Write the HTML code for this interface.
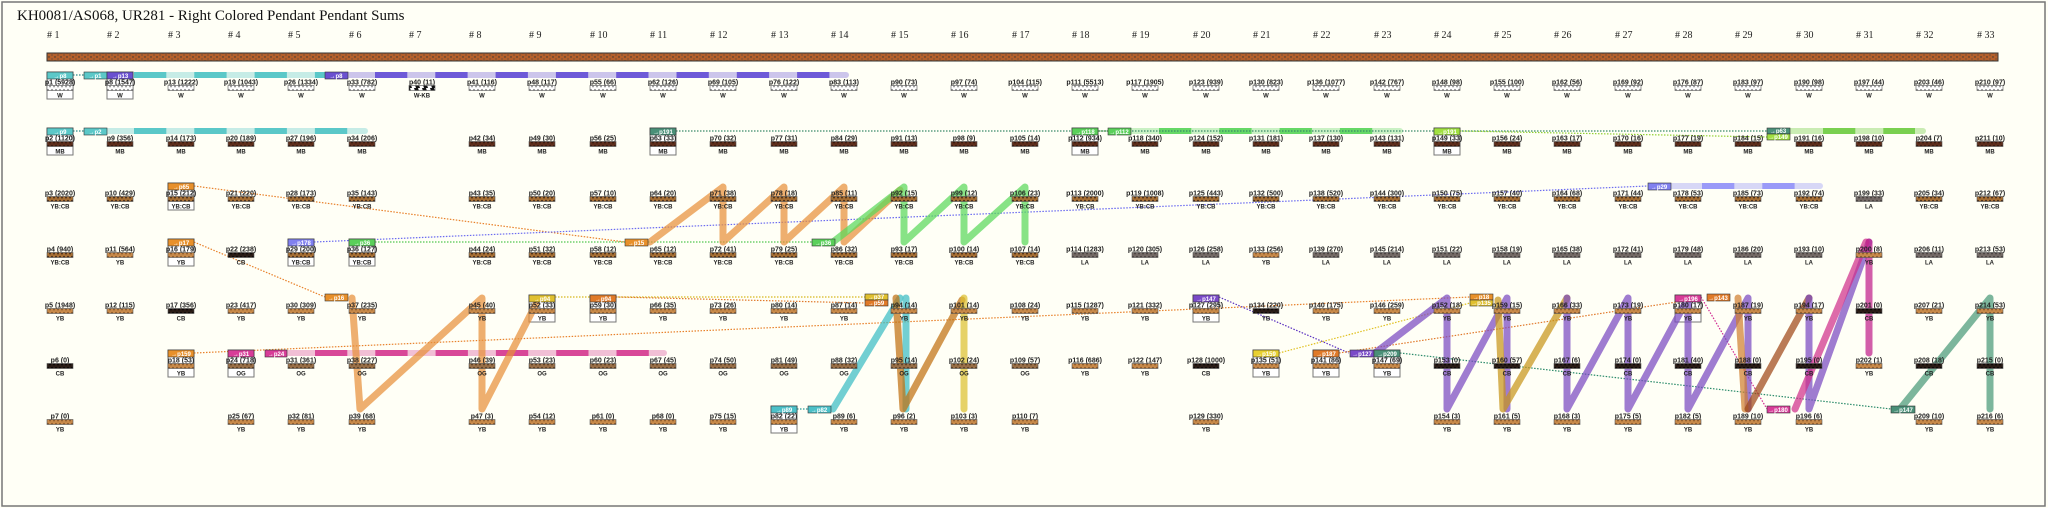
<!DOCTYPE html>
<html><head><meta charset="utf-8"><style>
html,body{margin:0;padding:0;background:#fffff6;}
svg{display:block;}
.l{font:bold 7px "Liberation Sans",sans-serif;text-anchor:middle;fill:#222;}
.t{font:bold 6px "Liberation Sans",sans-serif;text-anchor:middle;fill:#222;}
.h{font:10px "Liberation Serif",serif;fill:#222;}
.tg{font:bold 6px "Liberation Sans",sans-serif;fill:#fff;text-anchor:middle;}
.box{fill:#fff;stroke:#777;stroke-width:1;}
.s{stroke:#555;stroke-width:.6;}
.W{fill:url(#pW)}.MB{fill:url(#pMB)}.YBCB{fill:url(#pYBCB)}.YB{fill:url(#pYB)}.CB{fill:url(#pCB)}.LA{fill:url(#pLA)}.OG{fill:url(#pOG)}.WKB{fill:url(#pWKB)}
.d{fill:none;stroke-width:1.2;stroke-dasharray:1.5 1.5;}
.z{fill:none;stroke-width:7;stroke-linecap:round;stroke-linejoin:round;opacity:.72;}
</style></head><body>
<svg width="2048" height="508" viewBox="0 0 2048 508" xmlns="http://www.w3.org/2000/svg">
<defs>
<pattern id="pW" width="4" height="6" patternUnits="userSpaceOnUse"><rect width="4" height="6" fill="#fff"/><path d="M0,1 L2,5 L4,1" stroke="#777" fill="none" stroke-width=".8"/></pattern>
<pattern id="pMB" width="4" height="6" patternUnits="userSpaceOnUse"><rect width="4" height="6" fill="#5e2e1c"/><path d="M0,1 L2,5 L4,1" stroke="#2a1208" fill="none" stroke-width=".8"/></pattern>
<pattern id="pYBCB" width="4" height="6" patternUnits="userSpaceOnUse"><rect width="4" height="6" fill="#a87034"/><path d="M0,1 L2,5 L4,1" stroke="#3a2010" fill="none" stroke-width=".9"/></pattern>
<pattern id="pYB" width="4" height="6" patternUnits="userSpaceOnUse"><rect width="4" height="6" fill="#c88a4a"/><path d="M0,1 L2,5 L4,1" stroke="#7a4a20" fill="none" stroke-width=".8"/></pattern>
<pattern id="pCB" width="4" height="6" patternUnits="userSpaceOnUse"><rect width="4" height="6" fill="#2a1c16"/><path d="M0,1 L2,5 L4,1" stroke="#000" fill="none" stroke-width=".8"/></pattern>
<pattern id="pLA" width="4" height="6" patternUnits="userSpaceOnUse"><rect width="4" height="6" fill="#746a66"/><path d="M0,1 L2,5 L4,1" stroke="#3a3432" fill="none" stroke-width=".8"/></pattern>
<pattern id="pOG" width="4" height="6" patternUnits="userSpaceOnUse"><rect width="4" height="6" fill="#9a7048"/><path d="M0,1 L2,5 L4,1" stroke="#4a3018" fill="none" stroke-width=".8"/></pattern>
<pattern id="pWKB" width="8" height="6" patternUnits="userSpaceOnUse"><rect width="8" height="6" fill="#fff"/><path d="M0,0 L4,0 L6,6 L2,6Z" fill="#111"/></pattern>
<pattern id="pBar" width="6" height="4" patternUnits="userSpaceOnUse"><rect width="6" height="4" fill="#b4602c"/><circle cx="1" cy="1" r=".7" fill="#333"/><circle cx="4" cy="3" r=".6" fill="#46403c"/></pattern>
</defs>
<rect x="2" y="2" width="2043" height="504" fill="#fffff6" stroke="#777" stroke-width="1.5"/>
<text x="17" y="20" style="font:15px 'Liberation Serif',serif;fill:#111">KH0081/AS068, UR281 - Right Colored Pendant Pendant Sums</text>
<g class="h">
<text x="47" y="38"># 1</text><text x="107" y="38"># 2</text><text x="168" y="38"># 3</text><text x="228" y="38"># 4</text><text x="288" y="38"># 5</text><text x="349" y="38"># 6</text><text x="409" y="38"># 7</text><text x="469" y="38"># 8</text><text x="529" y="38"># 9</text><text x="590" y="38"># 10</text><text x="650" y="38"># 11</text><text x="710" y="38"># 12</text><text x="771" y="38"># 13</text><text x="831" y="38"># 14</text><text x="891" y="38"># 15</text><text x="951" y="38"># 16</text><text x="1012" y="38"># 17</text><text x="1072" y="38"># 18</text><text x="1132" y="38"># 19</text><text x="1193" y="38"># 20</text><text x="1253" y="38"># 21</text><text x="1313" y="38"># 22</text><text x="1374" y="38"># 23</text><text x="1434" y="38"># 24</text><text x="1494" y="38"># 25</text><text x="1554" y="38"># 26</text><text x="1615" y="38"># 27</text><text x="1675" y="38"># 28</text><text x="1735" y="38"># 29</text><text x="1796" y="38"># 30</text><text x="1856" y="38"># 31</text><text x="1916" y="38"># 32</text><text x="1977" y="38"># 33</text>
</g>
<rect x="47" y="53" width="1951" height="8" fill="url(#pBar)" stroke="#333" stroke-width="1"/>

<!-- boxes -->
<g class="box">
<rect x="47" y="72" width="26" height="27"/><rect x="107" y="72" width="26" height="27"/><rect x="47" y="128" width="26" height="27"/>
<rect x="650" y="128" width="26" height="27"/><rect x="1072" y="128" width="26" height="27"/><rect x="1434" y="128" width="26" height="27"/>
<rect x="168" y="183" width="26" height="27"/><rect x="168" y="239" width="26" height="27"/><rect x="288" y="239" width="26" height="27"/><rect x="349" y="239" width="26" height="27"/>
<rect x="529" y="295" width="26" height="27"/><rect x="590" y="295" width="26" height="27"/><rect x="1193" y="295" width="26" height="27"/><rect x="1675" y="295" width="26" height="27"/>
<rect x="168" y="350" width="26" height="27"/><rect x="228" y="350" width="26" height="27"/><rect x="1253" y="350" width="26" height="27"/><rect x="1313" y="350" width="26" height="27"/><rect x="1374" y="350" width="26" height="27"/>
<rect x="771" y="406" width="26" height="27"/>
</g>

<!-- bars -->
<g stroke-linecap="round" fill="none" stroke-width="6">
<line x1="135" y1="75" x2="325" y2="75" stroke="#5bc8c8" opacity=".35"/><line x1="134" y1="75" x2="325" y2="75" stroke="#5bc8c8" stroke-dasharray="32.3 28" stroke-linecap="butt"/>
<line x1="348" y1="75" x2="846" y2="75" stroke="#6e5ad8" opacity=".35"/><line x1="375" y1="75" x2="830" y2="75" stroke="#6e5ad8" stroke-dasharray="32.3 28" stroke-linecap="butt"/>
<line x1="107" y1="131" x2="365" y2="131" stroke="#5bc8c8" opacity=".35"/><line x1="134" y1="131" x2="348" y2="131" stroke="#5bc8c8" stroke-dasharray="32.3 28" stroke-linecap="butt"/>
<line x1="1131" y1="131" x2="1400" y2="131" stroke="#66d866" opacity=".35"/><line x1="1159" y1="131" x2="1373" y2="131" stroke="#66d866" stroke-dasharray="32.3 28" stroke-linecap="butt"/>
<line x1="1790" y1="131" x2="1923" y2="131" stroke="#7ad050" opacity=".4"/><line x1="1823" y1="131" x2="1915" y2="131" stroke="#7ad050" stroke-dasharray="32.3 28" stroke-linecap="butt"/>
<line x1="1671" y1="186" x2="1820" y2="186" stroke="#9a9af8" opacity=".4"/><line x1="1702" y1="186" x2="1795" y2="186" stroke="#9a9af8" stroke-dasharray="32.3 28" stroke-linecap="butt"/>
<line x1="287" y1="353" x2="664" y2="353" stroke="#d84898" opacity=".35"/><line x1="315" y1="353" x2="649" y2="353" stroke="#d84898" stroke-dasharray="32.3 28" stroke-linecap="butt"/>
</g>

<!-- dotted -->
<g class="d">
<line x1="73" y1="75" x2="84" y2="75" stroke="#2a8a8a"/><line x1="73" y1="131" x2="84" y2="131" stroke="#2a8a8a"/>
<line x1="194" y1="186" x2="625" y2="242" stroke="#e8802a"/>
<line x1="314" y1="242" x2="1648" y2="186" stroke="#6a6af0"/>
<line x1="375" y1="242" x2="812" y2="242" stroke="#50c850"/>
<line x1="194" y1="242" x2="325" y2="297" stroke="#e8802a"/>
<line x1="555" y1="297" x2="865" y2="297" stroke="#d8b820"/>
<line x1="616" y1="297" x2="865" y2="303" stroke="#e0782a"/>
<line x1="194" y1="353" x2="1470" y2="297" stroke="#e8802a"/>
<line x1="797" y1="409" x2="808" y2="409" stroke="#2a9a9a"/>
<line x1="676" y1="131" x2="1767" y2="131" stroke="#3a8a6a"/>
<line x1="1098" y1="131" x2="1108" y2="131" stroke="#3a8a3a"/>
<line x1="1460" y1="131" x2="1767" y2="137" stroke="#90d030"/>
<line x1="1219" y1="297" x2="1349" y2="353" stroke="#5a30c0"/>
<line x1="1279" y1="353" x2="1470" y2="303" stroke="#e0c020"/>
<line x1="1339" y1="353" x2="1690" y2="300" stroke="#e0782a"/>
<line x1="1400" y1="353" x2="1891" y2="409" stroke="#2a8a6a"/>
<line x1="1701" y1="297" x2="1767" y2="409" stroke="#d02890"/>
</g>

<!-- thick zigzags -->
<polyline class="z" stroke="#e8903a" points="352,298 360,409 482,298 482,409 536,304"/>
<polyline class="z" stroke="#e8903a" points="650,242 723,187 723,242 784,187 784,242 844,187 844,242 900,190"/>
<polyline class="z" stroke="#5ad85a" points="833,242 904,187 904,242 964,187 964,242 1025,187 1025,242"/>
<polyline class="z" stroke="#3cbcc4" points="833,409 900,298"/>
<polyline class="z" stroke="#3cbcc4" points="906,298 906,409"/>
<polyline class="z" stroke="#c07010" points="896,298 903,409 962,300"/>
<polyline class="z" stroke="#dcc030" points="964,298 964,409"/>
<polyline class="z" stroke="#7a4ac0" points="1375,353 1447,298 1447,409 1507,298 1507,409"/>
<polyline class="z" stroke="#c8961a" points="1498,300 1503,409 1567,298"/>
<polyline class="z" stroke="#7a4ac0" points="1567,298 1567,409 1628,298 1628,409 1688,298 1688,409 1748,298 1748,409"/>
<polyline class="z" stroke="#d08030" points="1738,298 1745,409"/>
<polyline class="z" stroke="#a04818" points="1748,409 1809,298"/>
<polyline class="z" stroke="#7a4ac0" points="1809,298 1809,409 1869,242"/>
<polyline class="z" stroke="#d0308a" points="1795,409 1866,242"/>
<polyline class="z" stroke="#c0208a" points="1869,242 1869,353"/>
<polyline class="z" stroke="#4a9a78" points="1900,409 1990,298 1990,409"/>

<!-- tags -->
<g>
<rect x="47" y="72" width="26" height="7" fill="#5bc8c8" stroke="#333" stroke-width=".6"/><text class="tg" x="60" y="78">→p8</text>
<rect x="84" y="72" width="23" height="7" fill="#5bc8c8" stroke="#333" stroke-width=".6"/><text class="tg" x="95" y="78">→p1</text>
<rect x="107" y="72" width="26" height="7" fill="#6a50d0" stroke="#333" stroke-width=".6"/><text class="tg" x="120" y="78">→p13</text>
<rect x="325" y="72" width="23" height="7" fill="#6a50d0" stroke="#333" stroke-width=".6"/><text class="tg" x="336" y="78">→p8</text>
<rect x="47" y="128" width="26" height="7" fill="#5bc8c8" stroke="#333" stroke-width=".6"/><text class="tg" x="60" y="134">→p9</text>
<rect x="84" y="128" width="23" height="7" fill="#5bc8c8" stroke="#333" stroke-width=".6"/><text class="tg" x="95" y="134">→p2</text>
<rect x="650" y="128" width="26" height="7" fill="#4a9078" stroke="#333" stroke-width=".6"/><text class="tg" x="663" y="134">→p191</text>
<rect x="1072" y="128" width="26" height="7" fill="#5ad05a" stroke="#333" stroke-width=".6"/><text class="tg" x="1085" y="134">→p118</text>
<rect x="1108" y="128" width="23" height="7" fill="#5ad05a" stroke="#333" stroke-width=".6"/><text class="tg" x="1119" y="134">→p112</text>
<rect x="1434" y="128" width="26" height="7" fill="#a0e040" stroke="#333" stroke-width=".6"/><text class="tg" x="1447" y="134">→p191</text>
<rect x="1767" y="128" width="23" height="6" fill="#4a9078" stroke="#333" stroke-width=".6"/><text class="tg" x="1778" y="133">→p63</text>
<rect x="1767" y="134" width="23" height="6" fill="#a0e040" stroke="#333" stroke-width=".6"/><text class="tg" x="1778" y="139">→p149</text>
<rect x="168" y="183" width="26" height="7" fill="#e8902a" stroke="#333" stroke-width=".6"/><text class="tg" x="181" y="189">→p65</text>
<rect x="1648" y="183" width="23" height="7" fill="#8080f0" stroke="#333" stroke-width=".6"/><text class="tg" x="1659" y="189">→p29</text>
<rect x="168" y="239" width="26" height="7" fill="#e8902a" stroke="#333" stroke-width=".6"/><text class="tg" x="181" y="245">→p17</text>
<rect x="288" y="239" width="26" height="7" fill="#8080f0" stroke="#333" stroke-width=".6"/><text class="tg" x="301" y="245">→p178</text>
<rect x="349" y="239" width="26" height="7" fill="#5ad05a" stroke="#333" stroke-width=".6"/><text class="tg" x="362" y="245">→p36</text>
<rect x="625" y="239" width="23" height="7" fill="#e8902a" stroke="#333" stroke-width=".6"/><text class="tg" x="636" y="245">→p15</text>
<rect x="812" y="239" width="23" height="7" fill="#5ad05a" stroke="#333" stroke-width=".6"/><text class="tg" x="823" y="245">→p36</text>
<rect x="325" y="294" width="23" height="7" fill="#e8902a" stroke="#333" stroke-width=".6"/><text class="tg" x="336" y="300">→p16</text>
<rect x="529" y="295" width="26" height="7" fill="#e0c030" stroke="#333" stroke-width=".6"/><text class="tg" x="542" y="301">→p94</text>
<rect x="590" y="295" width="26" height="7" fill="#e07a28" stroke="#333" stroke-width=".6"/><text class="tg" x="603" y="301">→p94</text>
<rect x="865" y="294" width="23" height="6" fill="#e0c030" stroke="#333" stroke-width=".6"/><text class="tg" x="876" y="299">→p37</text>
<rect x="865" y="300" width="23" height="6" fill="#e07a28" stroke="#333" stroke-width=".6"/><text class="tg" x="876" y="305">→p59</text>
<rect x="1193" y="295" width="26" height="7" fill="#7a4ac8" stroke="#333" stroke-width=".6"/><text class="tg" x="1206" y="301">→p147</text>
<rect x="1470" y="294" width="23" height="6" fill="#e8902a" stroke="#333" stroke-width=".6"/><text class="tg" x="1481" y="299">→p18</text>
<rect x="1470" y="300" width="23" height="6" fill="#e0c030" stroke="#333" stroke-width=".6"/><text class="tg" x="1481" y="305">→p135</text>
<rect x="1675" y="295" width="26" height="7" fill="#d83c98" stroke="#333" stroke-width=".6"/><text class="tg" x="1688" y="301">→p196</text>
<rect x="1707" y="294" width="23" height="7" fill="#e07a28" stroke="#333" stroke-width=".6"/><text class="tg" x="1718" y="300">→p143</text>
<rect x="168" y="350" width="26" height="7" fill="#e8902a" stroke="#333" stroke-width=".6"/><text class="tg" x="181" y="356">→p159</text>
<rect x="228" y="350" width="26" height="7" fill="#d83c98" stroke="#333" stroke-width=".6"/><text class="tg" x="241" y="356">→p31</text>
<rect x="265" y="350" width="22" height="7" fill="#d83c98" stroke="#333" stroke-width=".6"/><text class="tg" x="276" y="356">→p24</text>
<rect x="1253" y="350" width="26" height="7" fill="#e8d030" stroke="#333" stroke-width=".6"/><text class="tg" x="1266" y="356">→p159</text>
<rect x="1313" y="350" width="26" height="7" fill="#e07a28" stroke="#333" stroke-width=".6"/><text class="tg" x="1326" y="356">→p187</text>
<rect x="1350" y="350" width="24" height="7" fill="#7a4ac8" stroke="#333" stroke-width=".6"/><text class="tg" x="1362" y="356">→p127</text>
<rect x="1374" y="350" width="26" height="7" fill="#4a9078" stroke="#333" stroke-width=".6"/><text class="tg" x="1387" y="356">→p209</text>
<rect x="771" y="406" width="26" height="7" fill="#4cc0c8" stroke="#333" stroke-width=".6"/><text class="tg" x="784" y="412">→p89</text>
<rect x="808" y="406" width="23" height="7" fill="#4cc0c8" stroke="#333" stroke-width=".6"/><text class="tg" x="819" y="412">→p82</text>
<rect x="1767" y="406" width="23" height="7" fill="#d83c98" stroke="#333" stroke-width=".6"/><text class="tg" x="1778" y="412">→p180</text>
<rect x="1891" y="406" width="24" height="7" fill="#4a9078" stroke="#333" stroke-width=".6"/><text class="tg" x="1903" y="412">→p147</text>
</g>

<!-- nodes -->
<g>
<g transform="translate(60,82)"><text class="l" y="2.5">p1 (5928)</text><rect class="s W" x="-13" y="3.5" width="26" height="5"/><text class="t" y="15.5">W</text></g>
<g transform="translate(60,138)"><text class="l" y="2.5">p2 (1120)</text><rect class="s MB" x="-13" y="3.5" width="26" height="5"/><text class="t" y="15.5">MB</text></g>
<g transform="translate(60,193)"><text class="l" y="2.5">p3 (2020)</text><rect class="s YBCB" x="-13" y="3.5" width="26" height="5"/><text class="t" y="15.5">YB:CB</text></g>
<g transform="translate(60,249)"><text class="l" y="2.5">p4 (940)</text><rect class="s YBCB" x="-13" y="3.5" width="26" height="5"/><text class="t" y="15.5">YB:CB</text></g>
<g transform="translate(60,305)"><text class="l" y="2.5">p5 (1948)</text><rect class="s YB" x="-13" y="3.5" width="26" height="5"/><text class="t" y="15.5">YB</text></g>
<g transform="translate(60,360)"><text class="l" y="2.5">p6 (0)</text><rect class="s CB" x="-13" y="3.5" width="26" height="5"/><text class="t" y="15.5">CB</text></g>
<g transform="translate(60,416)"><text class="l" y="2.5">p7 (0)</text><rect class="s YB" x="-13" y="3.5" width="26" height="5"/><text class="t" y="15.5">YB</text></g>

<g transform="translate(120,82)"><text class="l" y="2.5">p8 (1547)</text><rect class="s W" x="-13" y="3.5" width="26" height="5"/><text class="t" y="15.5">W</text></g>
<g transform="translate(120,138)"><text class="l" y="2.5">p9 (356)</text><rect class="s MB" x="-13" y="3.5" width="26" height="5"/><text class="t" y="15.5">MB</text></g>
<g transform="translate(120,193)"><text class="l" y="2.5">p10 (429)</text><rect class="s YBCB" x="-13" y="3.5" width="26" height="5"/><text class="t" y="15.5">YB:CB</text></g>
<g transform="translate(120,249)"><text class="l" y="2.5">p11 (564)</text><rect class="s YB" x="-13" y="3.5" width="26" height="5"/><text class="t" y="15.5">YB</text></g>
<g transform="translate(120,305)"><text class="l" y="2.5">p12 (115)</text><rect class="s YB" x="-13" y="3.5" width="26" height="5"/><text class="t" y="15.5">YB</text></g>

<g transform="translate(181,82)"><text class="l" y="2.5">p13 (1222)</text><rect class="s W" x="-13" y="3.5" width="26" height="5"/><text class="t" y="15.5">W</text></g>
<g transform="translate(181,138)"><text class="l" y="2.5">p14 (173)</text><rect class="s MB" x="-13" y="3.5" width="26" height="5"/><text class="t" y="15.5">MB</text></g>
<g transform="translate(181,193)"><text class="l" y="2.5">p15 (212)</text><rect class="s YBCB" x="-13" y="3.5" width="26" height="5"/><text class="t" y="15.5">YB:CB</text></g>
<g transform="translate(181,249)"><text class="l" y="2.5">p16 (179)</text><rect class="s YB" x="-13" y="3.5" width="26" height="5"/><text class="t" y="15.5">YB</text></g>
<g transform="translate(181,305)"><text class="l" y="2.5">p17 (356)</text><rect class="s CB" x="-13" y="3.5" width="26" height="5"/><text class="t" y="15.5">CB</text></g>
<g transform="translate(181,360)"><text class="l" y="2.5">p18 (53)</text><rect class="s YB" x="-13" y="3.5" width="26" height="5"/><text class="t" y="15.5">YB</text></g>

<g transform="translate(241,82)"><text class="l" y="2.5">p19 (1043)</text><rect class="s W" x="-13" y="3.5" width="26" height="5"/><text class="t" y="15.5">W</text></g>
<g transform="translate(241,138)"><text class="l" y="2.5">p20 (189)</text><rect class="s MB" x="-13" y="3.5" width="26" height="5"/><text class="t" y="15.5">MB</text></g>
<g transform="translate(241,193)"><text class="l" y="2.5">p21 (220)</text><rect class="s YBCB" x="-13" y="3.5" width="26" height="5"/><text class="t" y="15.5">YB:CB</text></g>
<g transform="translate(241,249)"><text class="l" y="2.5">p22 (238)</text><rect class="s CB" x="-13" y="3.5" width="26" height="5"/><text class="t" y="15.5">CB</text></g>
<g transform="translate(241,305)"><text class="l" y="2.5">p23 (417)</text><rect class="s YB" x="-13" y="3.5" width="26" height="5"/><text class="t" y="15.5">YB</text></g>
<g transform="translate(241,360)"><text class="l" y="2.5">p24 (718)</text><rect class="s OG" x="-13" y="3.5" width="26" height="5"/><text class="t" y="15.5">OG</text></g>
<g transform="translate(241,416)"><text class="l" y="2.5">p25 (67)</text><rect class="s YB" x="-13" y="3.5" width="26" height="5"/><text class="t" y="15.5">YB</text></g>

<g transform="translate(301,82)"><text class="l" y="2.5">p26 (1334)</text><rect class="s W" x="-13" y="3.5" width="26" height="5"/><text class="t" y="15.5">W</text></g>
<g transform="translate(301,138)"><text class="l" y="2.5">p27 (196)</text><rect class="s MB" x="-13" y="3.5" width="26" height="5"/><text class="t" y="15.5">MB</text></g>
<g transform="translate(301,193)"><text class="l" y="2.5">p28 (173)</text><rect class="s YBCB" x="-13" y="3.5" width="26" height="5"/><text class="t" y="15.5">YB:CB</text></g>
<g transform="translate(301,249)"><text class="l" y="2.5">p29 (200)</text><rect class="s YBCB" x="-13" y="3.5" width="26" height="5"/><text class="t" y="15.5">YB:CB</text></g>
<g transform="translate(301,305)"><text class="l" y="2.5">p30 (309)</text><rect class="s YB" x="-13" y="3.5" width="26" height="5"/><text class="t" y="15.5">YB</text></g>
<g transform="translate(301,360)"><text class="l" y="2.5">p31 (361)</text><rect class="s OG" x="-13" y="3.5" width="26" height="5"/><text class="t" y="15.5">OG</text></g>
<g transform="translate(301,416)"><text class="l" y="2.5">p32 (81)</text><rect class="s YB" x="-13" y="3.5" width="26" height="5"/><text class="t" y="15.5">YB</text></g>

<g transform="translate(362,82)"><text class="l" y="2.5">p33 (782)</text><rect class="s W" x="-13" y="3.5" width="26" height="5"/><text class="t" y="15.5">W</text></g>
<g transform="translate(362,138)"><text class="l" y="2.5">p34 (206)</text><rect class="s MB" x="-13" y="3.5" width="26" height="5"/><text class="t" y="15.5">MB</text></g>
<g transform="translate(362,193)"><text class="l" y="2.5">p35 (143)</text><rect class="s YBCB" x="-13" y="3.5" width="26" height="5"/><text class="t" y="15.5">YB:CB</text></g>
<g transform="translate(362,249)"><text class="l" y="2.5">p36 (127)</text><rect class="s YBCB" x="-13" y="3.5" width="26" height="5"/><text class="t" y="15.5">YB:CB</text></g>
<g transform="translate(362,305)"><text class="l" y="2.5">p37 (235)</text><rect class="s YB" x="-13" y="3.5" width="26" height="5"/><text class="t" y="15.5">YB</text></g>
<g transform="translate(362,360)"><text class="l" y="2.5">p38 (227)</text><rect class="s OG" x="-13" y="3.5" width="26" height="5"/><text class="t" y="15.5">OG</text></g>
<g transform="translate(362,416)"><text class="l" y="2.5">p39 (68)</text><rect class="s YB" x="-13" y="3.5" width="26" height="5"/><text class="t" y="15.5">YB</text></g>

<g transform="translate(422,82)"><text class="l" y="2.5">p40 (11)</text><rect class="s WKB" x="-13" y="3.5" width="26" height="5"/><text class="t" y="15.5">W-KB</text></g>

<g transform="translate(482,82)"><text class="l" y="2.5">p41 (116)</text><rect class="s W" x="-13" y="3.5" width="26" height="5"/><text class="t" y="15.5">W</text></g>
<g transform="translate(482,138)"><text class="l" y="2.5">p42 (34)</text><rect class="s MB" x="-13" y="3.5" width="26" height="5"/><text class="t" y="15.5">MB</text></g>
<g transform="translate(482,193)"><text class="l" y="2.5">p43 (35)</text><rect class="s YBCB" x="-13" y="3.5" width="26" height="5"/><text class="t" y="15.5">YB:CB</text></g>
<g transform="translate(482,249)"><text class="l" y="2.5">p44 (24)</text><rect class="s YBCB" x="-13" y="3.5" width="26" height="5"/><text class="t" y="15.5">YB:CB</text></g>
<g transform="translate(482,305)"><text class="l" y="2.5">p45 (40)</text><rect class="s YB" x="-13" y="3.5" width="26" height="5"/><text class="t" y="15.5">YB</text></g>
<g transform="translate(482,360)"><text class="l" y="2.5">p46 (39)</text><rect class="s OG" x="-13" y="3.5" width="26" height="5"/><text class="t" y="15.5">OG</text></g>
<g transform="translate(482,416)"><text class="l" y="2.5">p47 (3)</text><rect class="s YB" x="-13" y="3.5" width="26" height="5"/><text class="t" y="15.5">YB</text></g>

<g transform="translate(542,82)"><text class="l" y="2.5">p48 (117)</text><rect class="s W" x="-13" y="3.5" width="26" height="5"/><text class="t" y="15.5">W</text></g>
<g transform="translate(542,138)"><text class="l" y="2.5">p49 (30)</text><rect class="s MB" x="-13" y="3.5" width="26" height="5"/><text class="t" y="15.5">MB</text></g>
<g transform="translate(542,193)"><text class="l" y="2.5">p50 (20)</text><rect class="s YBCB" x="-13" y="3.5" width="26" height="5"/><text class="t" y="15.5">YB:CB</text></g>
<g transform="translate(542,249)"><text class="l" y="2.5">p51 (32)</text><rect class="s YBCB" x="-13" y="3.5" width="26" height="5"/><text class="t" y="15.5">YB:CB</text></g>
<g transform="translate(542,305)"><text class="l" y="2.5">p52 (33)</text><rect class="s YB" x="-13" y="3.5" width="26" height="5"/><text class="t" y="15.5">YB</text></g>
<g transform="translate(542,360)"><text class="l" y="2.5">p53 (23)</text><rect class="s OG" x="-13" y="3.5" width="26" height="5"/><text class="t" y="15.5">OG</text></g>
<g transform="translate(542,416)"><text class="l" y="2.5">p54 (12)</text><rect class="s YB" x="-13" y="3.5" width="26" height="5"/><text class="t" y="15.5">YB</text></g>

<g transform="translate(603,82)"><text class="l" y="2.5">p55 (66)</text><rect class="s W" x="-13" y="3.5" width="26" height="5"/><text class="t" y="15.5">W</text></g>
<g transform="translate(603,138)"><text class="l" y="2.5">p56 (25)</text><rect class="s MB" x="-13" y="3.5" width="26" height="5"/><text class="t" y="15.5">MB</text></g>
<g transform="translate(603,193)"><text class="l" y="2.5">p57 (10)</text><rect class="s YBCB" x="-13" y="3.5" width="26" height="5"/><text class="t" y="15.5">YB:CB</text></g>
<g transform="translate(603,249)"><text class="l" y="2.5">p58 (12)</text><rect class="s YBCB" x="-13" y="3.5" width="26" height="5"/><text class="t" y="15.5">YB:CB</text></g>
<g transform="translate(603,305)"><text class="l" y="2.5">p59 (30)</text><rect class="s YB" x="-13" y="3.5" width="26" height="5"/><text class="t" y="15.5">YB</text></g>
<g transform="translate(603,360)"><text class="l" y="2.5">p60 (23)</text><rect class="s OG" x="-13" y="3.5" width="26" height="5"/><text class="t" y="15.5">OG</text></g>
<g transform="translate(603,416)"><text class="l" y="2.5">p61 (0)</text><rect class="s YB" x="-13" y="3.5" width="26" height="5"/><text class="t" y="15.5">YB</text></g>

<g transform="translate(663,82)"><text class="l" y="2.5">p62 (126)</text><rect class="s W" x="-13" y="3.5" width="26" height="5"/><text class="t" y="15.5">W</text></g>
<g transform="translate(663,138)"><text class="l" y="2.5">p63 (33)</text><rect class="s MB" x="-13" y="3.5" width="26" height="5"/><text class="t" y="15.5">MB</text></g>
<g transform="translate(663,193)"><text class="l" y="2.5">p64 (20)</text><rect class="s YBCB" x="-13" y="3.5" width="26" height="5"/><text class="t" y="15.5">YB:CB</text></g>
<g transform="translate(663,249)"><text class="l" y="2.5">p65 (12)</text><rect class="s YBCB" x="-13" y="3.5" width="26" height="5"/><text class="t" y="15.5">YB:CB</text></g>
<g transform="translate(663,305)"><text class="l" y="2.5">p66 (35)</text><rect class="s YB" x="-13" y="3.5" width="26" height="5"/><text class="t" y="15.5">YB</text></g>
<g transform="translate(663,360)"><text class="l" y="2.5">p67 (45)</text><rect class="s OG" x="-13" y="3.5" width="26" height="5"/><text class="t" y="15.5">OG</text></g>
<g transform="translate(663,416)"><text class="l" y="2.5">p68 (0)</text><rect class="s YB" x="-13" y="3.5" width="26" height="5"/><text class="t" y="15.5">YB</text></g>

<g transform="translate(723,82)"><text class="l" y="2.5">p69 (105)</text><rect class="s W" x="-13" y="3.5" width="26" height="5"/><text class="t" y="15.5">W</text></g>
<g transform="translate(723,138)"><text class="l" y="2.5">p70 (32)</text><rect class="s MB" x="-13" y="3.5" width="26" height="5"/><text class="t" y="15.5">MB</text></g>
<g transform="translate(723,193)"><text class="l" y="2.5">p71 (38)</text><rect class="s YBCB" x="-13" y="3.5" width="26" height="5"/><text class="t" y="15.5">YB:CB</text></g>
<g transform="translate(723,249)"><text class="l" y="2.5">p72 (41)</text><rect class="s YBCB" x="-13" y="3.5" width="26" height="5"/><text class="t" y="15.5">YB:CB</text></g>
<g transform="translate(723,305)"><text class="l" y="2.5">p73 (26)</text><rect class="s YB" x="-13" y="3.5" width="26" height="5"/><text class="t" y="15.5">YB</text></g>
<g transform="translate(723,360)"><text class="l" y="2.5">p74 (50)</text><rect class="s OG" x="-13" y="3.5" width="26" height="5"/><text class="t" y="15.5">OG</text></g>
<g transform="translate(723,416)"><text class="l" y="2.5">p75 (15)</text><rect class="s YB" x="-13" y="3.5" width="26" height="5"/><text class="t" y="15.5">YB</text></g>

<g transform="translate(784,82)"><text class="l" y="2.5">p76 (122)</text><rect class="s W" x="-13" y="3.5" width="26" height="5"/><text class="t" y="15.5">W</text></g>
<g transform="translate(784,138)"><text class="l" y="2.5">p77 (31)</text><rect class="s MB" x="-13" y="3.5" width="26" height="5"/><text class="t" y="15.5">MB</text></g>
<g transform="translate(784,193)"><text class="l" y="2.5">p78 (18)</text><rect class="s YBCB" x="-13" y="3.5" width="26" height="5"/><text class="t" y="15.5">YB:CB</text></g>
<g transform="translate(784,249)"><text class="l" y="2.5">p79 (25)</text><rect class="s YBCB" x="-13" y="3.5" width="26" height="5"/><text class="t" y="15.5">YB:CB</text></g>
<g transform="translate(784,305)"><text class="l" y="2.5">p80 (14)</text><rect class="s YB" x="-13" y="3.5" width="26" height="5"/><text class="t" y="15.5">YB</text></g>
<g transform="translate(784,360)"><text class="l" y="2.5">p81 (49)</text><rect class="s OG" x="-13" y="3.5" width="26" height="5"/><text class="t" y="15.5">OG</text></g>
<g transform="translate(784,416)"><text class="l" y="2.5">p82 (22)</text><rect class="s YB" x="-13" y="3.5" width="26" height="5"/><text class="t" y="15.5">YB</text></g>

<g transform="translate(844,82)"><text class="l" y="2.5">p83 (113)</text><rect class="s W" x="-13" y="3.5" width="26" height="5"/><text class="t" y="15.5">W</text></g>
<g transform="translate(844,138)"><text class="l" y="2.5">p84 (29)</text><rect class="s MB" x="-13" y="3.5" width="26" height="5"/><text class="t" y="15.5">MB</text></g>
<g transform="translate(844,193)"><text class="l" y="2.5">p85 (11)</text><rect class="s YBCB" x="-13" y="3.5" width="26" height="5"/><text class="t" y="15.5">YB:CB</text></g>
<g transform="translate(844,249)"><text class="l" y="2.5">p86 (32)</text><rect class="s YBCB" x="-13" y="3.5" width="26" height="5"/><text class="t" y="15.5">YB:CB</text></g>
<g transform="translate(844,305)"><text class="l" y="2.5">p87 (14)</text><rect class="s YB" x="-13" y="3.5" width="26" height="5"/><text class="t" y="15.5">YB</text></g>
<g transform="translate(844,360)"><text class="l" y="2.5">p88 (32)</text><rect class="s OG" x="-13" y="3.5" width="26" height="5"/><text class="t" y="15.5">OG</text></g>
<g transform="translate(844,416)"><text class="l" y="2.5">p89 (6)</text><rect class="s YB" x="-13" y="3.5" width="26" height="5"/><text class="t" y="15.5">YB</text></g>

<g transform="translate(904,82)"><text class="l" y="2.5">p90 (73)</text><rect class="s W" x="-13" y="3.5" width="26" height="5"/><text class="t" y="15.5">W</text></g>
<g transform="translate(904,138)"><text class="l" y="2.5">p91 (13)</text><rect class="s MB" x="-13" y="3.5" width="26" height="5"/><text class="t" y="15.5">MB</text></g>
<g transform="translate(904,193)"><text class="l" y="2.5">p92 (15)</text><rect class="s YBCB" x="-13" y="3.5" width="26" height="5"/><text class="t" y="15.5">YB:CB</text></g>
<g transform="translate(904,249)"><text class="l" y="2.5">p93 (17)</text><rect class="s YBCB" x="-13" y="3.5" width="26" height="5"/><text class="t" y="15.5">YB:CB</text></g>
<g transform="translate(904,305)"><text class="l" y="2.5">p94 (14)</text><rect class="s YB" x="-13" y="3.5" width="26" height="5"/><text class="t" y="15.5">YB</text></g>
<g transform="translate(904,360)"><text class="l" y="2.5">p95 (14)</text><rect class="s OG" x="-13" y="3.5" width="26" height="5"/><text class="t" y="15.5">OG</text></g>
<g transform="translate(904,416)"><text class="l" y="2.5">p96 (2)</text><rect class="s YB" x="-13" y="3.5" width="26" height="5"/><text class="t" y="15.5">YB</text></g>

<g transform="translate(964,82)"><text class="l" y="2.5">p97 (74)</text><rect class="s W" x="-13" y="3.5" width="26" height="5"/><text class="t" y="15.5">W</text></g>
<g transform="translate(964,138)"><text class="l" y="2.5">p98 (9)</text><rect class="s MB" x="-13" y="3.5" width="26" height="5"/><text class="t" y="15.5">MB</text></g>
<g transform="translate(964,193)"><text class="l" y="2.5">p99 (12)</text><rect class="s YBCB" x="-13" y="3.5" width="26" height="5"/><text class="t" y="15.5">YB:CB</text></g>
<g transform="translate(964,249)"><text class="l" y="2.5">p100 (14)</text><rect class="s YBCB" x="-13" y="3.5" width="26" height="5"/><text class="t" y="15.5">YB:CB</text></g>
<g transform="translate(964,305)"><text class="l" y="2.5">p101 (14)</text><rect class="s YB" x="-13" y="3.5" width="26" height="5"/><text class="t" y="15.5">YB</text></g>
<g transform="translate(964,360)"><text class="l" y="2.5">p102 (24)</text><rect class="s OG" x="-13" y="3.5" width="26" height="5"/><text class="t" y="15.5">OG</text></g>
<g transform="translate(964,416)"><text class="l" y="2.5">p103 (3)</text><rect class="s YB" x="-13" y="3.5" width="26" height="5"/><text class="t" y="15.5">YB</text></g>

<g transform="translate(1025,82)"><text class="l" y="2.5">p104 (115)</text><rect class="s W" x="-13" y="3.5" width="26" height="5"/><text class="t" y="15.5">W</text></g>
<g transform="translate(1025,138)"><text class="l" y="2.5">p105 (14)</text><rect class="s MB" x="-13" y="3.5" width="26" height="5"/><text class="t" y="15.5">MB</text></g>
<g transform="translate(1025,193)"><text class="l" y="2.5">p106 (23)</text><rect class="s YBCB" x="-13" y="3.5" width="26" height="5"/><text class="t" y="15.5">YB:CB</text></g>
<g transform="translate(1025,249)"><text class="l" y="2.5">p107 (14)</text><rect class="s YBCB" x="-13" y="3.5" width="26" height="5"/><text class="t" y="15.5">YB:CB</text></g>
<g transform="translate(1025,305)"><text class="l" y="2.5">p108 (24)</text><rect class="s YB" x="-13" y="3.5" width="26" height="5"/><text class="t" y="15.5">YB</text></g>
<g transform="translate(1025,360)"><text class="l" y="2.5">p109 (57)</text><rect class="s OG" x="-13" y="3.5" width="26" height="5"/><text class="t" y="15.5">OG</text></g>
<g transform="translate(1025,416)"><text class="l" y="2.5">p110 (7)</text><rect class="s YB" x="-13" y="3.5" width="26" height="5"/><text class="t" y="15.5">YB</text></g>

<g transform="translate(1085,82)"><text class="l" y="2.5">p111 (5513)</text><rect class="s W" x="-13" y="3.5" width="26" height="5"/><text class="t" y="15.5">W</text></g>
<g transform="translate(1085,138)"><text class="l" y="2.5">p112 (934)</text><rect class="s MB" x="-13" y="3.5" width="26" height="5"/><text class="t" y="15.5">MB</text></g>
<g transform="translate(1085,193)"><text class="l" y="2.5">p113 (2000)</text><rect class="s YBCB" x="-13" y="3.5" width="26" height="5"/><text class="t" y="15.5">YB:CB</text></g>
<g transform="translate(1085,249)"><text class="l" y="2.5">p114 (1283)</text><rect class="s LA" x="-13" y="3.5" width="26" height="5"/><text class="t" y="15.5">LA</text></g>
<g transform="translate(1085,305)"><text class="l" y="2.5">p115 (1287)</text><rect class="s YB" x="-13" y="3.5" width="26" height="5"/><text class="t" y="15.5">YB</text></g>
<g transform="translate(1085,360)"><text class="l" y="2.5">p116 (686)</text><rect class="s YB" x="-13" y="3.5" width="26" height="5"/><text class="t" y="15.5">YB</text></g>

<g transform="translate(1145,82)"><text class="l" y="2.5">p117 (1905)</text><rect class="s W" x="-13" y="3.5" width="26" height="5"/><text class="t" y="15.5">W</text></g>
<g transform="translate(1145,138)"><text class="l" y="2.5">p118 (340)</text><rect class="s MB" x="-13" y="3.5" width="26" height="5"/><text class="t" y="15.5">MB</text></g>
<g transform="translate(1145,193)"><text class="l" y="2.5">p119 (1008)</text><rect class="s YBCB" x="-13" y="3.5" width="26" height="5"/><text class="t" y="15.5">YB:CB</text></g>
<g transform="translate(1145,249)"><text class="l" y="2.5">p120 (305)</text><rect class="s LA" x="-13" y="3.5" width="26" height="5"/><text class="t" y="15.5">LA</text></g>
<g transform="translate(1145,305)"><text class="l" y="2.5">p121 (332)</text><rect class="s YB" x="-13" y="3.5" width="26" height="5"/><text class="t" y="15.5">YB</text></g>
<g transform="translate(1145,360)"><text class="l" y="2.5">p122 (147)</text><rect class="s YB" x="-13" y="3.5" width="26" height="5"/><text class="t" y="15.5">YB</text></g>

<g transform="translate(1206,82)"><text class="l" y="2.5">p123 (939)</text><rect class="s W" x="-13" y="3.5" width="26" height="5"/><text class="t" y="15.5">W</text></g>
<g transform="translate(1206,138)"><text class="l" y="2.5">p124 (152)</text><rect class="s MB" x="-13" y="3.5" width="26" height="5"/><text class="t" y="15.5">MB</text></g>
<g transform="translate(1206,193)"><text class="l" y="2.5">p125 (443)</text><rect class="s YBCB" x="-13" y="3.5" width="26" height="5"/><text class="t" y="15.5">YB:CB</text></g>
<g transform="translate(1206,249)"><text class="l" y="2.5">p126 (258)</text><rect class="s LA" x="-13" y="3.5" width="26" height="5"/><text class="t" y="15.5">LA</text></g>
<g transform="translate(1206,305)"><text class="l" y="2.5">p127 (295)</text><rect class="s YB" x="-13" y="3.5" width="26" height="5"/><text class="t" y="15.5">YB</text></g>
<g transform="translate(1206,360)"><text class="l" y="2.5">p128 (1000)</text><rect class="s CB" x="-13" y="3.5" width="26" height="5"/><text class="t" y="15.5">CB</text></g>
<g transform="translate(1206,416)"><text class="l" y="2.5">p129 (330)</text><rect class="s YB" x="-13" y="3.5" width="26" height="5"/><text class="t" y="15.5">YB</text></g>

<g transform="translate(1266,82)"><text class="l" y="2.5">p130 (823)</text><rect class="s W" x="-13" y="3.5" width="26" height="5"/><text class="t" y="15.5">W</text></g>
<g transform="translate(1266,138)"><text class="l" y="2.5">p131 (181)</text><rect class="s MB" x="-13" y="3.5" width="26" height="5"/><text class="t" y="15.5">MB</text></g>
<g transform="translate(1266,193)"><text class="l" y="2.5">p132 (500)</text><rect class="s YBCB" x="-13" y="3.5" width="26" height="5"/><text class="t" y="15.5">YB:CB</text></g>
<g transform="translate(1266,249)"><text class="l" y="2.5">p133 (256)</text><rect class="s YB" x="-13" y="3.5" width="26" height="5"/><text class="t" y="15.5">YB</text></g>
<g transform="translate(1266,305)"><text class="l" y="2.5">p134 (220)</text><rect class="s CB" x="-13" y="3.5" width="26" height="5"/><text class="t" y="15.5">YB</text></g>
<g transform="translate(1266,360)"><text class="l" y="2.5">p135 (51)</text><rect class="s YB" x="-13" y="3.5" width="26" height="5"/><text class="t" y="15.5">YB</text></g>

<g transform="translate(1326,82)"><text class="l" y="2.5">p136 (1077)</text><rect class="s W" x="-13" y="3.5" width="26" height="5"/><text class="t" y="15.5">W</text></g>
<g transform="translate(1326,138)"><text class="l" y="2.5">p137 (130)</text><rect class="s MB" x="-13" y="3.5" width="26" height="5"/><text class="t" y="15.5">MB</text></g>
<g transform="translate(1326,193)"><text class="l" y="2.5">p138 (520)</text><rect class="s YBCB" x="-13" y="3.5" width="26" height="5"/><text class="t" y="15.5">YB:CB</text></g>
<g transform="translate(1326,249)"><text class="l" y="2.5">p139 (270)</text><rect class="s LA" x="-13" y="3.5" width="26" height="5"/><text class="t" y="15.5">LA</text></g>
<g transform="translate(1326,305)"><text class="l" y="2.5">p140 (175)</text><rect class="s YB" x="-13" y="3.5" width="26" height="5"/><text class="t" y="15.5">YB</text></g>
<g transform="translate(1326,360)"><text class="l" y="2.5">p141 (86)</text><rect class="s YB" x="-13" y="3.5" width="26" height="5"/><text class="t" y="15.5">YB</text></g>

<g transform="translate(1387,82)"><text class="l" y="2.5">p142 (767)</text><rect class="s W" x="-13" y="3.5" width="26" height="5"/><text class="t" y="15.5">W</text></g>
<g transform="translate(1387,138)"><text class="l" y="2.5">p143 (131)</text><rect class="s MB" x="-13" y="3.5" width="26" height="5"/><text class="t" y="15.5">MB</text></g>
<g transform="translate(1387,193)"><text class="l" y="2.5">p144 (300)</text><rect class="s YBCB" x="-13" y="3.5" width="26" height="5"/><text class="t" y="15.5">YB:CB</text></g>
<g transform="translate(1387,249)"><text class="l" y="2.5">p145 (214)</text><rect class="s LA" x="-13" y="3.5" width="26" height="5"/><text class="t" y="15.5">LA</text></g>
<g transform="translate(1387,305)"><text class="l" y="2.5">p146 (259)</text><rect class="s YB" x="-13" y="3.5" width="26" height="5"/><text class="t" y="15.5">YB</text></g>
<g transform="translate(1387,360)"><text class="l" y="2.5">p147 (69)</text><rect class="s YB" x="-13" y="3.5" width="26" height="5"/><text class="t" y="15.5">YB</text></g>

<g transform="translate(1447,82)"><text class="l" y="2.5">p148 (98)</text><rect class="s W" x="-13" y="3.5" width="26" height="5"/><text class="t" y="15.5">W</text></g>
<g transform="translate(1447,138)"><text class="l" y="2.5">p149 (33)</text><rect class="s MB" x="-13" y="3.5" width="26" height="5"/><text class="t" y="15.5">MB</text></g>
<g transform="translate(1447,193)"><text class="l" y="2.5">p150 (75)</text><rect class="s YBCB" x="-13" y="3.5" width="26" height="5"/><text class="t" y="15.5">YB:CB</text></g>
<g transform="translate(1447,249)"><text class="l" y="2.5">p151 (22)</text><rect class="s LA" x="-13" y="3.5" width="26" height="5"/><text class="t" y="15.5">LA</text></g>
<g transform="translate(1447,305)"><text class="l" y="2.5">p152 (18)</text><rect class="s YB" x="-13" y="3.5" width="26" height="5"/><text class="t" y="15.5">YB</text></g>
<g transform="translate(1447,360)"><text class="l" y="2.5">p153 (0)</text><rect class="s CB" x="-13" y="3.5" width="26" height="5"/><text class="t" y="15.5">CB</text></g>
<g transform="translate(1447,416)"><text class="l" y="2.5">p154 (3)</text><rect class="s YB" x="-13" y="3.5" width="26" height="5"/><text class="t" y="15.5">YB</text></g>

<g transform="translate(1507,82)"><text class="l" y="2.5">p155 (100)</text><rect class="s W" x="-13" y="3.5" width="26" height="5"/><text class="t" y="15.5">W</text></g>
<g transform="translate(1507,138)"><text class="l" y="2.5">p156 (24)</text><rect class="s MB" x="-13" y="3.5" width="26" height="5"/><text class="t" y="15.5">MB</text></g>
<g transform="translate(1507,193)"><text class="l" y="2.5">p157 (40)</text><rect class="s YBCB" x="-13" y="3.5" width="26" height="5"/><text class="t" y="15.5">YB:CB</text></g>
<g transform="translate(1507,249)"><text class="l" y="2.5">p158 (19)</text><rect class="s LA" x="-13" y="3.5" width="26" height="5"/><text class="t" y="15.5">LA</text></g>
<g transform="translate(1507,305)"><text class="l" y="2.5">p159 (15)</text><rect class="s YB" x="-13" y="3.5" width="26" height="5"/><text class="t" y="15.5">YB</text></g>
<g transform="translate(1507,360)"><text class="l" y="2.5">p160 (57)</text><rect class="s CB" x="-13" y="3.5" width="26" height="5"/><text class="t" y="15.5">CB</text></g>
<g transform="translate(1507,416)"><text class="l" y="2.5">p161 (5)</text><rect class="s YB" x="-13" y="3.5" width="26" height="5"/><text class="t" y="15.5">YB</text></g>

<g transform="translate(1567,82)"><text class="l" y="2.5">p162 (56)</text><rect class="s W" x="-13" y="3.5" width="26" height="5"/><text class="t" y="15.5">W</text></g>
<g transform="translate(1567,138)"><text class="l" y="2.5">p163 (17)</text><rect class="s MB" x="-13" y="3.5" width="26" height="5"/><text class="t" y="15.5">MB</text></g>
<g transform="translate(1567,193)"><text class="l" y="2.5">p164 (68)</text><rect class="s YBCB" x="-13" y="3.5" width="26" height="5"/><text class="t" y="15.5">YB:CB</text></g>
<g transform="translate(1567,249)"><text class="l" y="2.5">p165 (38)</text><rect class="s LA" x="-13" y="3.5" width="26" height="5"/><text class="t" y="15.5">LA</text></g>
<g transform="translate(1567,305)"><text class="l" y="2.5">p166 (33)</text><rect class="s YB" x="-13" y="3.5" width="26" height="5"/><text class="t" y="15.5">YB</text></g>
<g transform="translate(1567,360)"><text class="l" y="2.5">p167 (6)</text><rect class="s CB" x="-13" y="3.5" width="26" height="5"/><text class="t" y="15.5">CB</text></g>
<g transform="translate(1567,416)"><text class="l" y="2.5">p168 (3)</text><rect class="s YB" x="-13" y="3.5" width="26" height="5"/><text class="t" y="15.5">YB</text></g>

<g transform="translate(1628,82)"><text class="l" y="2.5">p169 (92)</text><rect class="s W" x="-13" y="3.5" width="26" height="5"/><text class="t" y="15.5">W</text></g>
<g transform="translate(1628,138)"><text class="l" y="2.5">p170 (16)</text><rect class="s MB" x="-13" y="3.5" width="26" height="5"/><text class="t" y="15.5">MB</text></g>
<g transform="translate(1628,193)"><text class="l" y="2.5">p171 (44)</text><rect class="s YBCB" x="-13" y="3.5" width="26" height="5"/><text class="t" y="15.5">YB:CB</text></g>
<g transform="translate(1628,249)"><text class="l" y="2.5">p172 (41)</text><rect class="s LA" x="-13" y="3.5" width="26" height="5"/><text class="t" y="15.5">LA</text></g>
<g transform="translate(1628,305)"><text class="l" y="2.5">p173 (19)</text><rect class="s YB" x="-13" y="3.5" width="26" height="5"/><text class="t" y="15.5">YB</text></g>
<g transform="translate(1628,360)"><text class="l" y="2.5">p174 (0)</text><rect class="s CB" x="-13" y="3.5" width="26" height="5"/><text class="t" y="15.5">CB</text></g>
<g transform="translate(1628,416)"><text class="l" y="2.5">p175 (5)</text><rect class="s YB" x="-13" y="3.5" width="26" height="5"/><text class="t" y="15.5">YB</text></g>

<g transform="translate(1688,82)"><text class="l" y="2.5">p176 (87)</text><rect class="s W" x="-13" y="3.5" width="26" height="5"/><text class="t" y="15.5">W</text></g>
<g transform="translate(1688,138)"><text class="l" y="2.5">p177 (19)</text><rect class="s MB" x="-13" y="3.5" width="26" height="5"/><text class="t" y="15.5">MB</text></g>
<g transform="translate(1688,193)"><text class="l" y="2.5">p178 (53)</text><rect class="s YBCB" x="-13" y="3.5" width="26" height="5"/><text class="t" y="15.5">YB:CB</text></g>
<g transform="translate(1688,249)"><text class="l" y="2.5">p179 (48)</text><rect class="s LA" x="-13" y="3.5" width="26" height="5"/><text class="t" y="15.5">LA</text></g>
<g transform="translate(1688,305)"><text class="l" y="2.5">p180 (17)</text><rect class="s YB" x="-13" y="3.5" width="26" height="5"/><text class="t" y="15.5">YB</text></g>
<g transform="translate(1688,360)"><text class="l" y="2.5">p181 (40)</text><rect class="s CB" x="-13" y="3.5" width="26" height="5"/><text class="t" y="15.5">CB</text></g>
<g transform="translate(1688,416)"><text class="l" y="2.5">p182 (5)</text><rect class="s YB" x="-13" y="3.5" width="26" height="5"/><text class="t" y="15.5">YB</text></g>

<g transform="translate(1748,82)"><text class="l" y="2.5">p183 (97)</text><rect class="s W" x="-13" y="3.5" width="26" height="5"/><text class="t" y="15.5">W</text></g>
<g transform="translate(1748,138)"><text class="l" y="2.5">p184 (15)</text><rect class="s MB" x="-13" y="3.5" width="26" height="5"/><text class="t" y="15.5">MB</text></g>
<g transform="translate(1748,193)"><text class="l" y="2.5">p185 (73)</text><rect class="s YBCB" x="-13" y="3.5" width="26" height="5"/><text class="t" y="15.5">YB:CB</text></g>
<g transform="translate(1748,249)"><text class="l" y="2.5">p186 (20)</text><rect class="s LA" x="-13" y="3.5" width="26" height="5"/><text class="t" y="15.5">LA</text></g>
<g transform="translate(1748,305)"><text class="l" y="2.5">p187 (19)</text><rect class="s YB" x="-13" y="3.5" width="26" height="5"/><text class="t" y="15.5">YB</text></g>
<g transform="translate(1748,360)"><text class="l" y="2.5">p188 (0)</text><rect class="s CB" x="-13" y="3.5" width="26" height="5"/><text class="t" y="15.5">CB</text></g>
<g transform="translate(1748,416)"><text class="l" y="2.5">p189 (10)</text><rect class="s YB" x="-13" y="3.5" width="26" height="5"/><text class="t" y="15.5">YB</text></g>

<g transform="translate(1809,82)"><text class="l" y="2.5">p190 (98)</text><rect class="s W" x="-13" y="3.5" width="26" height="5"/><text class="t" y="15.5">W</text></g>
<g transform="translate(1809,138)"><text class="l" y="2.5">p191 (16)</text><rect class="s MB" x="-13" y="3.5" width="26" height="5"/><text class="t" y="15.5">MB</text></g>
<g transform="translate(1809,193)"><text class="l" y="2.5">p192 (74)</text><rect class="s YBCB" x="-13" y="3.5" width="26" height="5"/><text class="t" y="15.5">YB:CB</text></g>
<g transform="translate(1809,249)"><text class="l" y="2.5">p193 (10)</text><rect class="s LA" x="-13" y="3.5" width="26" height="5"/><text class="t" y="15.5">LA</text></g>
<g transform="translate(1809,305)"><text class="l" y="2.5">p194 (17)</text><rect class="s YB" x="-13" y="3.5" width="26" height="5"/><text class="t" y="15.5">YB</text></g>
<g transform="translate(1809,360)"><text class="l" y="2.5">p195 (0)</text><rect class="s CB" x="-13" y="3.5" width="26" height="5"/><text class="t" y="15.5">CB</text></g>
<g transform="translate(1809,416)"><text class="l" y="2.5">p196 (6)</text><rect class="s YB" x="-13" y="3.5" width="26" height="5"/><text class="t" y="15.5">YB</text></g>

<g transform="translate(1869,82)"><text class="l" y="2.5">p197 (44)</text><rect class="s W" x="-13" y="3.5" width="26" height="5"/><text class="t" y="15.5">W</text></g>
<g transform="translate(1869,138)"><text class="l" y="2.5">p198 (10)</text><rect class="s MB" x="-13" y="3.5" width="26" height="5"/><text class="t" y="15.5">MB</text></g>
<g transform="translate(1869,193)"><text class="l" y="2.5">p199 (33)</text><rect class="s LA" x="-13" y="3.5" width="26" height="5"/><text class="t" y="15.5">LA</text></g>
<g transform="translate(1869,249)"><text class="l" y="2.5">p200 (8)</text><rect class="s YB" x="-13" y="3.5" width="26" height="5"/><text class="t" y="15.5">YB</text></g>
<g transform="translate(1869,305)"><text class="l" y="2.5">p201 (0)</text><rect class="s CB" x="-13" y="3.5" width="26" height="5"/><text class="t" y="15.5">CB</text></g>
<g transform="translate(1869,360)"><text class="l" y="2.5">p202 (1)</text><rect class="s YB" x="-13" y="3.5" width="26" height="5"/><text class="t" y="15.5">YB</text></g>

<g transform="translate(1929,82)"><text class="l" y="2.5">p203 (46)</text><rect class="s W" x="-13" y="3.5" width="26" height="5"/><text class="t" y="15.5">W</text></g>
<g transform="translate(1929,138)"><text class="l" y="2.5">p204 (7)</text><rect class="s MB" x="-13" y="3.5" width="26" height="5"/><text class="t" y="15.5">MB</text></g>
<g transform="translate(1929,193)"><text class="l" y="2.5">p205 (34)</text><rect class="s YBCB" x="-13" y="3.5" width="26" height="5"/><text class="t" y="15.5">YB:CB</text></g>
<g transform="translate(1929,249)"><text class="l" y="2.5">p206 (11)</text><rect class="s LA" x="-13" y="3.5" width="26" height="5"/><text class="t" y="15.5">LA</text></g>
<g transform="translate(1929,305)"><text class="l" y="2.5">p207 (21)</text><rect class="s YB" x="-13" y="3.5" width="26" height="5"/><text class="t" y="15.5">YB</text></g>
<g transform="translate(1929,360)"><text class="l" y="2.5">p208 (18)</text><rect class="s CB" x="-13" y="3.5" width="26" height="5"/><text class="t" y="15.5">CB</text></g>
<g transform="translate(1929,416)"><text class="l" y="2.5">p209 (10)</text><rect class="s YB" x="-13" y="3.5" width="26" height="5"/><text class="t" y="15.5">YB</text></g>

<g transform="translate(1990,82)"><text class="l" y="2.5">p210 (97)</text><rect class="s W" x="-13" y="3.5" width="26" height="5"/><text class="t" y="15.5">W</text></g>
<g transform="translate(1990,138)"><text class="l" y="2.5">p211 (10)</text><rect class="s MB" x="-13" y="3.5" width="26" height="5"/><text class="t" y="15.5">MB</text></g>
<g transform="translate(1990,193)"><text class="l" y="2.5">p212 (67)</text><rect class="s YBCB" x="-13" y="3.5" width="26" height="5"/><text class="t" y="15.5">YB:CB</text></g>
<g transform="translate(1990,249)"><text class="l" y="2.5">p213 (53)</text><rect class="s LA" x="-13" y="3.5" width="26" height="5"/><text class="t" y="15.5">LA</text></g>
<g transform="translate(1990,305)"><text class="l" y="2.5">p214 (53)</text><rect class="s YB" x="-13" y="3.5" width="26" height="5"/><text class="t" y="15.5">YB</text></g>
<g transform="translate(1990,360)"><text class="l" y="2.5">p215 (0)</text><rect class="s CB" x="-13" y="3.5" width="26" height="5"/><text class="t" y="15.5">CB</text></g>
<g transform="translate(1990,416)"><text class="l" y="2.5">p216 (6)</text><rect class="s YB" x="-13" y="3.5" width="26" height="5"/><text class="t" y="15.5">YB</text></g>
</g>
</svg>
</body></html>
